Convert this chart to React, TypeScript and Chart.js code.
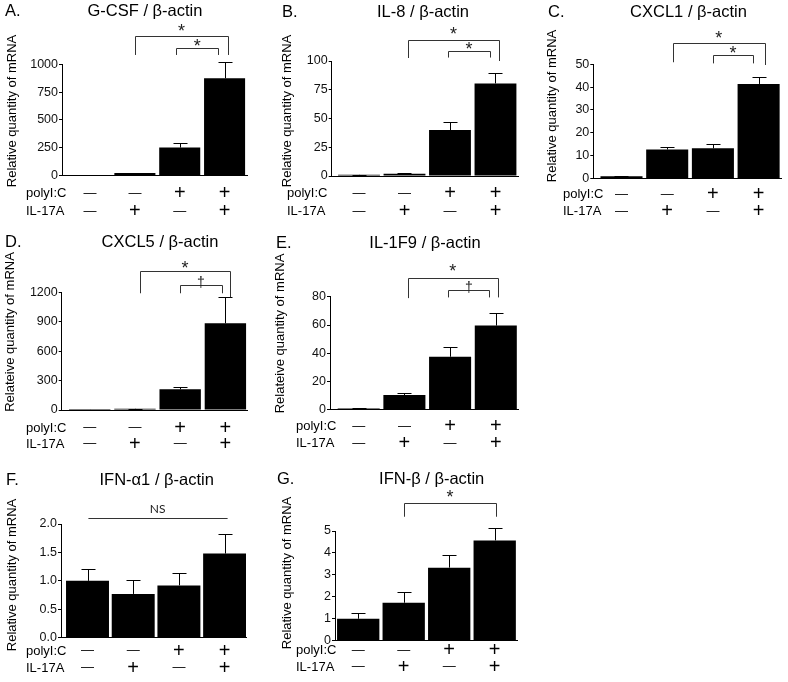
import React, { useEffect, useRef } from 'react';
import { Chart, registerables } from 'chart.js';

Chart.register(...registerables);

// ---------- data ----------
const POLY_IC = ['—', '—', '+', '+'];
const IL_17A = ['—', '+', '—', '+'];
const ROW_NAMES = ['polyI:C', 'IL-17A'];

const GCSF_MEAN = [1, 22, 251, 874];
const GCSF_SEM = [0.5, 3, 40, 144];
const GCSF_TICKS = [0, 250, 500, 750, 1000];

const IL8_MEAN = [1, 2, 40, 80.5];
const IL8_SEM = [0.2, 0.5, 7.2, 9.2];
const IL8_TICKS = [0, 25, 50, 75, 100];

const CXCL1_MEAN = [1, 12.7, 13.2, 41.4];
const CXCL1_SEM = [0.2, 1.2, 1.9, 3.2];
const CXCL1_TICKS = [0, 10, 20, 30, 40, 50];

const CXCL5_MEAN = [1, 12, 211, 884];
const CXCL5_SEM = [0.5, 3, 27, 271];
const CXCL5_TICKS = [0, 300, 600, 900, 1200];

const IL1F9_MEAN = [1, 10.6, 37.6, 59.6];
const IL1F9_SEM = [0.2, 1.6, 6.7, 8.7];
const IL1F9_TICKS = [0, 20, 40, 60, 80];

const IFNA1_MEAN = [1.0, 0.77, 0.92, 1.48];
const IFNA1_SEM = [0.21, 0.24, 0.22, 0.34];
const IFNA1_TICKS = [0, 0.5, 1.0, 1.5, 2.0];

const IFNB_MEAN = [1.0, 1.73, 3.33, 4.57];
const IFNB_SEM = [0.28, 0.51, 0.58, 0.56];
const IFNB_TICKS = [0, 1, 2, 3, 4, 5];

// ---------- layout / style ----------
const W = 788;
const H = 682;
const FONT = '"Liberation Sans", Arial, Helvetica, sans-serif';
const Y_SCALE_W = 40;

type Bracket = {
  from: number; to: number; top: number; left: number; right: number;
  label: string; labelY: number;
};

type Layout = {
  letter: string; letterX: number; titleX: number; titleBase: number;
  yTitleX: number; yTitleY: number;
  axisX: number; top: number; bottom: number; right: number;
  xMin: number; xMax: number; barPct: number;
  rowX: number; rowY: number[];
};

type Panel = {
  title: string; yTitle: string;
  mean: number[]; sem: number[]; ticks: number[]; decimals: number;
  brackets: Bracket[]; L: Layout;
};

const REL = 'Relative quantity of mRNA';
const RELE = 'Relateive quantity of mRNA';

const PANELS: Panel[] = [
  {
    title: 'G-CSF / β-actin', yTitle: REL, mean: GCSF_MEAN, sem: GCSF_SEM, ticks: GCSF_TICKS, decimals: 0,
    brackets: [
      { from: 1.0, to: 3.08, top: 1254, left: 1084, right: 1084, label: '*', labelY: 1326 },
      { from: 1.92, to: 2.86, top: 1147, left: 1084, right: 1084, label: '*', labelY: 1192 },
    ],
    L: { letter: 'A.', letterX: 5, titleX: 145, titleBase: 16, yTitleX: 12, yTitleY: 111,
      axisX: 62, top: 64.3, bottom: 175.5, right: 247, xMin: -0.625, xMax: 3.5, barPct: 0.915,
      rowX: 26, rowY: [193.5, 211.5] },
  },
  {
    title: 'IL-8 / β-actin', yTitle: REL, mean: IL8_MEAN, sem: IL8_SEM, ticks: IL8_TICKS, decimals: 0,
    brackets: [
      { from: 1.07, to: 3.08, top: 118.3, left: 102.6, right: 100, label: '*', labelY: 126 },
      { from: 1.96, to: 2.88, top: 108.7, left: 103, right: 103, label: '*', labelY: 113 },
    ],
    L: { letter: 'B.', letterX: 282, titleX: 423, titleBase: 16.5, yTitleX: 287, yTitleY: 111,
      axisX: 331.7, top: 61, bottom: 176, right: 518, xMin: -0.6, xMax: 3.495, barPct: 0.92,
      rowX: 287, rowY: [193.5, 211.5] },
  },
  {
    title: 'CXCL1 / β-actin', yTitle: REL, mean: CXCL1_MEAN, sem: CXCL1_SEM, ticks: CXCL1_TICKS, decimals: 0,
    brackets: [
      { from: 1.12, to: 3.14, top: 59.5, left: 50.9, right: 49.7, label: '*', labelY: 62.9 },
      { from: 2.0, to: 2.88, top: 54.1, left: 50.4, right: 50.4, label: '*', labelY: 56.3 },
    ],
    L: { letter: 'C.', letterX: 548, titleX: 688.5, titleBase: 16.5, yTitleX: 552, yTitleY: 106,
      axisX: 593.3, top: 64.3, bottom: 178.5, right: 781, xMin: -0.617, xMax: 3.49, barPct: 0.92,
      rowX: 563, rowY: [194.5, 211.5] },
  },
  {
    title: 'CXCL5 / β-actin', yTitle: RELE, mean: CXCL5_MEAN, sem: CXCL5_SEM, ticks: CXCL5_TICKS, decimals: 0,
    brackets: [
      { from: 1.11, to: 3.1, top: 1417, left: 1190, right: 1150, label: '*', labelY: 1478 },
      { from: 2.0, to: 2.92, top: 1274, left: 1190, right: 1190, label: '†', labelY: 1300 },
    ],
    L: { letter: 'D.', letterX: 5, titleX: 160, titleBase: 246.5, yTitleX: 10, yTitleY: 332,
      axisX: 61.7, top: 292.3, bottom: 410, right: 248, xMin: -0.62, xMax: 3.5, barPct: 0.915,
      rowX: 26, rowY: [428.3, 444.3] },
  },
  {
    title: 'IL-1F9 / β-actin', yTitle: RELE, mean: IL1F9_MEAN, sem: IL1F9_SEM, ticks: IL1F9_TICKS, decimals: 0,
    brackets: [
      { from: 1.07, to: 3.05, top: 93, left: 79, right: 79.5, label: '*', labelY: 100 },
      { from: 1.96, to: 2.86, top: 85, left: 79.5, right: 79.5, label: '†', labelY: 87 },
    ],
    L: { letter: 'E.', letterX: 276, titleX: 425, titleBase: 248, yTitleX: 280, yTitleY: 333.5,
      axisX: 330, top: 296.7, bottom: 410, right: 518, xMin: -0.628, xMax: 3.486, barPct: 0.92,
      rowX: 296, rowY: [426.7, 443.8] },
  },
  {
    title: 'IFN-α1 / β-actin', yTitle: REL, mean: IFNA1_MEAN, sem: IFNA1_SEM, ticks: IFNA1_TICKS, decimals: 1,
    brackets: [
      { from: 0.02, to: 3.05, top: 2.1, left: 2.1, right: 2.1, label: 'NS', labelY: 2.27 },
    ],
    L: { letter: 'F.', letterX: 6, titleX: 156.7, titleBase: 485, yTitleX: 12, yTitleY: 575,
      axisX: 61, top: 524, bottom: 637.7, right: 246, xMin: -0.58, xMax: 3.468, barPct: 0.94,
      rowX: 26, rowY: [651, 668] },
  },
  {
    title: 'IFN-β / β-actin', yTitle: REL, mean: IFNB_MEAN, sem: IFNB_SEM, ticks: IFNB_TICKS, decimals: 0,
    brackets: [
      { from: 1.01, to: 3.02, top: 6.29, left: 5.65, right: 5.65, label: '*', labelY: 6.69 },
    ],
    L: { letter: 'G.', letterX: 277, titleX: 431.7, titleBase: 483.5, yTitleX: 287, yTitleY: 573,
      axisX: 335, top: 531, bottom: 640.7, right: 517, xMin: -0.51, xMax: 3.49, barPct: 0.93,
      rowX: 296, rowY: [650.7, 667.3] },
  },
];

function crisp(v: number) {
  return Math.round(v) + 0.5;
}

function panelPlugin(p: Panel) {
  return {
    id: 'panelDecor',
    afterDatasetsDraw(chart: any) {
      const { ctx } = chart;
      const x = chart.scales.x;
      const y = chart.scales.y;
      ctx.save();
      ctx.strokeStyle = '#000';
      ctx.lineWidth = 1;
      p.mean.forEach((m, i) => {
        const cx = crisp(x.getPixelForValue(i));
        const y0 = y.getPixelForValue(m);
        const y1 = crisp(y.getPixelForValue(m + p.sem[i]));
        ctx.beginPath();
        ctx.moveTo(cx, y0);
        ctx.lineTo(cx, y1);
        ctx.moveTo(cx - 7, y1);
        ctx.lineTo(cx + 7, y1);
        ctx.stroke();
      });
      ctx.restore();
    },
    afterDraw(chart: any) {
      const { ctx } = chart;
      const x = chart.scales.x;
      const y = chart.scales.y;
      const L = p.L;
      ctx.save();
      ctx.fillStyle = '#000';

      // letter + title
      ctx.font = `16.5px ${FONT}`;
      ctx.textBaseline = 'alphabetic';
      ctx.textAlign = 'left';
      ctx.fillText(L.letter, L.letterX, L.titleBase);
      ctx.textAlign = 'center';
      ctx.fillText(p.title, L.titleX, L.titleBase);

      // y-axis title
      ctx.save();
      ctx.translate(L.yTitleX, L.yTitleY);
      ctx.rotate(-Math.PI / 2);
      ctx.font = `13px ${FONT}`;
      ctx.textAlign = 'center';
      ctx.textBaseline = 'middle';
      ctx.fillText(p.yTitle, 0, 0);
      ctx.restore();

      // treatment rows
      ctx.textBaseline = 'middle';
      ctx.textAlign = 'left';
      ctx.font = `13px ${FONT}`;
      ROW_NAMES.forEach((n, r) => ctx.fillText(n, L.rowX, L.rowY[r]));
      ctx.textAlign = 'center';
      [POLY_IC, IL_17A].forEach((row, r) => {
        row.forEach((s, i) => {
          if (s === '+') {
            ctx.font = `20px ${FONT}`;
            ctx.fillText(s, x.getPixelForValue(i), L.rowY[r]);
          } else {
            ctx.font = `13px ${FONT}`;
            ctx.fillText(s, x.getPixelForValue(i), L.rowY[r] - 0.5);
          }
        });
      });

      // brackets
      ctx.strokeStyle = '#333';
      ctx.lineWidth = 1;
      p.brackets.forEach((b) => {
        const xa = crisp(x.getPixelForValue(b.from));
        const xb = crisp(x.getPixelForValue(b.to));
        const yt = crisp(y.getPixelForValue(b.top));
        const yl = y.getPixelForValue(b.left);
        const yr = y.getPixelForValue(b.right);
        ctx.beginPath();
        ctx.moveTo(xa, yl);
        ctx.lineTo(xa, yt);
        ctx.lineTo(xb, yt);
        ctx.lineTo(xb, yr);
        ctx.stroke();
        const lx = (x.getPixelForValue(b.from) + x.getPixelForValue(b.to)) / 2;
        const ly = y.getPixelForValue(b.labelY);
        ctx.fillStyle = '#222';
        ctx.textAlign = 'center';
        ctx.textBaseline = 'middle';
        if (b.label === '*') {
          ctx.font = `18px ${FONT}`;
          ctx.fillText(b.label, lx, ly + 18 * 0.22);
        } else if (b.label === '†') {
          ctx.font = `14px ${FONT}`;
          ctx.fillText(b.label, lx, ly + 1);
        } else {
          ctx.font = `12px Lato, "Open Sans", sans-serif`;
          ctx.fillText(b.label, lx, ly);
        }
      });
      ctx.restore();
    },
  };
}

function makeChart(canvas: HTMLCanvasElement, p: Panel) {
  const L = p.L;
  const yMax = p.ticks[p.ticks.length - 1];
  return new Chart(canvas, {
    type: 'bar',
    data: {
      datasets: [
        {
          data: p.mean.map((v, i) => ({ x: i, y: v })),
          backgroundColor: '#000',
          borderWidth: 0,
          barPercentage: L.barPct,
          categoryPercentage: 1,
        } as any,
      ],
    },
    options: {
      animation: false,
      responsive: false,
      maintainAspectRatio: false,
      events: [],
      layout: {
        padding: {
          left: L.axisX - Y_SCALE_W,
          top: L.top,
          right: W - L.right,
          bottom: H - L.bottom,
        },
      },
      plugins: {
        legend: { display: false },
        tooltip: { enabled: false },
        title: { display: false },
      },
      scales: {
        x: {
          type: 'linear',
          min: L.xMin,
          max: L.xMax,
          bounds: 'data',
          offset: false,
          ticks: { display: false },
          grid: { display: false },
          border: { display: true, color: '#000', width: 1 },
          afterBuildTicks: (s: any) => {
            s.ticks = p.mean.map((_, i) => ({ value: i }));
          },
          afterFit: (s: any) => {
            s.height = 0;
          },
        },
        y: {
          type: 'linear',
          min: 0,
          max: yMax,
          afterBuildTicks: (s: any) => {
            s.ticks = p.ticks.map((v) => ({ value: v }));
          },
          afterFit: (s: any) => {
            s.width = Y_SCALE_W;
          },
          ticks: {
            color: '#111',
            padding: 1,
            font: { family: FONT, size: 12.5 },
            callback: (v: any) => Number(v).toFixed(p.decimals),
          },
          grid: {
            display: true,
            drawOnChartArea: false,
            drawTicks: true,
            tickLength: 3,
            color: '#000',
            lineWidth: 1,
          },
          border: { display: true, color: '#000', width: 1 },
        },
      },
    } as any,
    plugins: [panelPlugin(p)],
  });
}

function PanelCanvas({ p }: { p: Panel }) {
  const ref = useRef<HTMLCanvasElement | null>(null);
  useEffect(() => {
    if (!ref.current) return;
    const c = makeChart(ref.current, p);
    return () => c.destroy();
  }, [p]);
  return (
    <canvas
      ref={ref}
      width={W}
      height={H}
      style={{ position: 'absolute', left: 0, top: 0, width: W, height: H, display: 'block' }}
    />
  );
}

export default function App() {
  return (
    <div
      style={{
        position: 'absolute',
        left: 0,
        top: 0,
        width: W,
        height: H,
        background: '#fff',
        overflow: 'hidden',
      }}
    >
      {PANELS.map((p, i) => (
        <PanelCanvas key={i} p={p} />
      ))}
    </div>
  );
}
